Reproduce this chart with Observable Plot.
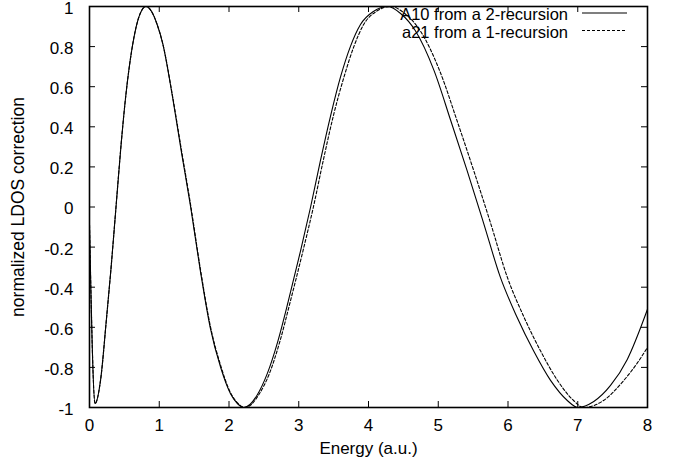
<!DOCTYPE html>
<html>
<head>
<meta charset="utf-8">
<script src="https://cdn.jsdelivr.net/npm/d3@7"></script>
<script src="https://cdn.jsdelivr.net/npm/@observablehq/plot@0.6"></script>
<style>
  body { margin: 0; background: #fff; }
  #chart { width: 675px; height: 464px; }
</style>
</head>
<body>
<div id="chart"></div>
<script>
// ---- data ----
const xTicks = [0, 1, 2, 3, 4, 5, 6, 7, 8];
const yTicks = [-1, -0.8, -0.6, -0.4, -0.2, 0, 0.2, 0.4, 0.6, 0.8, 1];

const energyA10 = [0, 0.08, 0.16, 0.24, 0.31, 0.38, 0.455, 0.525, 0.6, 0.67, 0.74, 0.81, 0.89, 0.97, 1.05, 1.19, 1.32, 1.45, 1.59, 1.73, 1.88, 2.02, 2.12, 2.21, 2.30, 2.40, 2.55, 2.70, 2.85, 3.025, 3.17, 3.31, 3.46, 3.6, 3.74, 3.885, 4.07, 4.28, 4.46, 4.67, 4.94, 5.18, 5.415, 5.65, 5.89, 6.13, 6.37, 6.61, 6.85, 7.0, 7.23, 7.47, 7.71, 8.0];
const valueA10  = [-0.09, -0.98, -0.86, -0.57, -0.30, 0.0, 0.32, 0.57, 0.77, 0.90, 0.975, 1.0, 0.975, 0.91, 0.815, 0.55, 0.27, 0.0, -0.32, -0.6, -0.80, -0.93, -0.98, -1.0, -0.985, -0.94, -0.83, -0.67, -0.47, -0.22, 0.0, 0.23, 0.46, 0.65, 0.80, 0.91, 0.975, 1.0, 0.965, 0.88, 0.68, 0.43, 0.18, -0.08, -0.35, -0.55, -0.72, -0.865, -0.965, -1.0, -0.97, -0.89, -0.76, -0.51];

const energyA21 = [0, 0.08, 0.16, 0.24, 0.31, 0.38, 0.455, 0.525, 0.6, 0.67, 0.74, 0.81, 0.89, 0.97, 1.05, 1.19, 1.32, 1.45, 1.59, 1.73, 1.88, 2.02, 2.13, 2.23, 2.32, 2.42, 2.58, 2.73, 2.88, 3.06, 3.21, 3.35, 3.5, 3.65, 3.79, 3.93, 4.11, 4.32, 4.52, 4.74, 5.02, 5.27, 5.51, 5.75, 5.99, 6.23, 6.47, 6.71, 6.94, 7.08, 7.37, 7.66, 7.85, 8.0];
const valueA21  = [-0.09, -0.98, -0.86, -0.57, -0.30, 0.0, 0.32, 0.57, 0.77, 0.90, 0.975, 1.0, 0.975, 0.91, 0.815, 0.555, 0.28, 0.01, -0.31, -0.59, -0.79, -0.925, -0.98, -1.0, -0.985, -0.94, -0.83, -0.67, -0.47, -0.22, 0.0, 0.23, 0.46, 0.65, 0.80, 0.91, 0.975, 1.0, 0.965, 0.88, 0.68, 0.43, 0.18, -0.08, -0.35, -0.55, -0.72, -0.865, -0.965, -1.0, -0.965, -0.865, -0.78, -0.70];

const seriesNames = ["A10 from a 2-recursion", "a21 from a 1-recursion"];
const seriesDash = ["none", "3,2"];

const xLabel = "Energy (a.u.)";
const yLabel = "normalized LDOS correction";

// ---- build tables ----
const a10 = energyA10.map((e, i) => ({E: e, v: valueA10[i]}));
const a21 = energyA21.map((e, i) => ({E: e, v: valueA21[i]}));

const font = "'Liberation Sans', Arial, Helvetica, sans-serif";

const W = 675, H = 464, mL = 89, mR = 28, mT = 6, mB = 57;
const frameW = W - mL - mR, frameH = H - mT - mB;
const tick = 6;

const chart = Plot.plot({
  width: W,
  height: H,
  marginLeft: mL,
  marginRight: mR,
  marginTop: mT,
  marginBottom: mB,
  style: {fontFamily: font, fontSize: "17px", color: "#000", background: "#fff", overflow: "visible"},
  x: {domain: [0, 8]},
  y: {domain: [-1, 1]},
  marks: [
    Plot.axisX(xTicks, {tickSize: 0, tickPadding: 11, label: null, fontSize: 17, tickFormat: d => String(d)}),
    Plot.axisY(yTicks, {tickSize: 0, tickPadding: 16, label: null, fontSize: 17, dy: 2, tickFormat: d => String(+d.toFixed(1))}),
    Plot.tickX(xTicks, {x: d => d, insetTop: frameH - tick, stroke: "#000", strokeWidth: 1}),
    Plot.tickX(xTicks, {x: d => d, insetBottom: frameH - tick, stroke: "#000", strokeWidth: 1}),
    Plot.tickY(yTicks, {y: d => d, insetRight: frameW - tick, stroke: "#000", strokeWidth: 1}),
    Plot.tickY(yTicks, {y: d => d, insetLeft: frameW - tick, stroke: "#000", strokeWidth: 1}),
    Plot.line(a10, {x: "E", y: "v", curve: "monotone-x", stroke: "#000", strokeWidth: 1.1, clip: true}),
    Plot.line(a21, {x: "E", y: "v", curve: "monotone-x", stroke: "#000", strokeWidth: 1.1, strokeDasharray: "3,2", clip: true}),
    Plot.frame({stroke: "#000", strokeWidth: 1.6}),
    Plot.text([xLabel], {frameAnchor: "bottom", lineAnchor: "middle", textAnchor: "middle", dy: 41, fontSize: 17, fill: "#000"}),
    Plot.text([yLabel], {frameAnchor: "left", lineAnchor: "middle", textAnchor: "middle", dx: -71, rotate: -90, fontSize: 17.5, fill: "#000"})
  ]
});

document.getElementById("chart").appendChild(chart);

// ---- legend (rows drawn from the series arrays) ----
const svg = d3.select(chart);
const lg = svg.append("g").attr("font-family", font).attr("font-size", 16.5);
seriesNames.forEach((name, i) => {
  const cy = 14.5 + i * 17.5;
  lg.append("text").attr("x", 568).attr("y", cy).attr("dy", "0.35em")
    .attr("text-anchor", "end").attr("fill", "#000").text(name);
  lg.append("line").attr("x1", 582).attr("x2", 627).attr("y1", cy - 1.5).attr("y2", cy - 1.5)
    .attr("stroke", "#000").attr("stroke-width", 1.1)
    .attr("stroke-dasharray", seriesDash[i] === "none" ? null : seriesDash[i]);
});
</script>
</body>
</html>
